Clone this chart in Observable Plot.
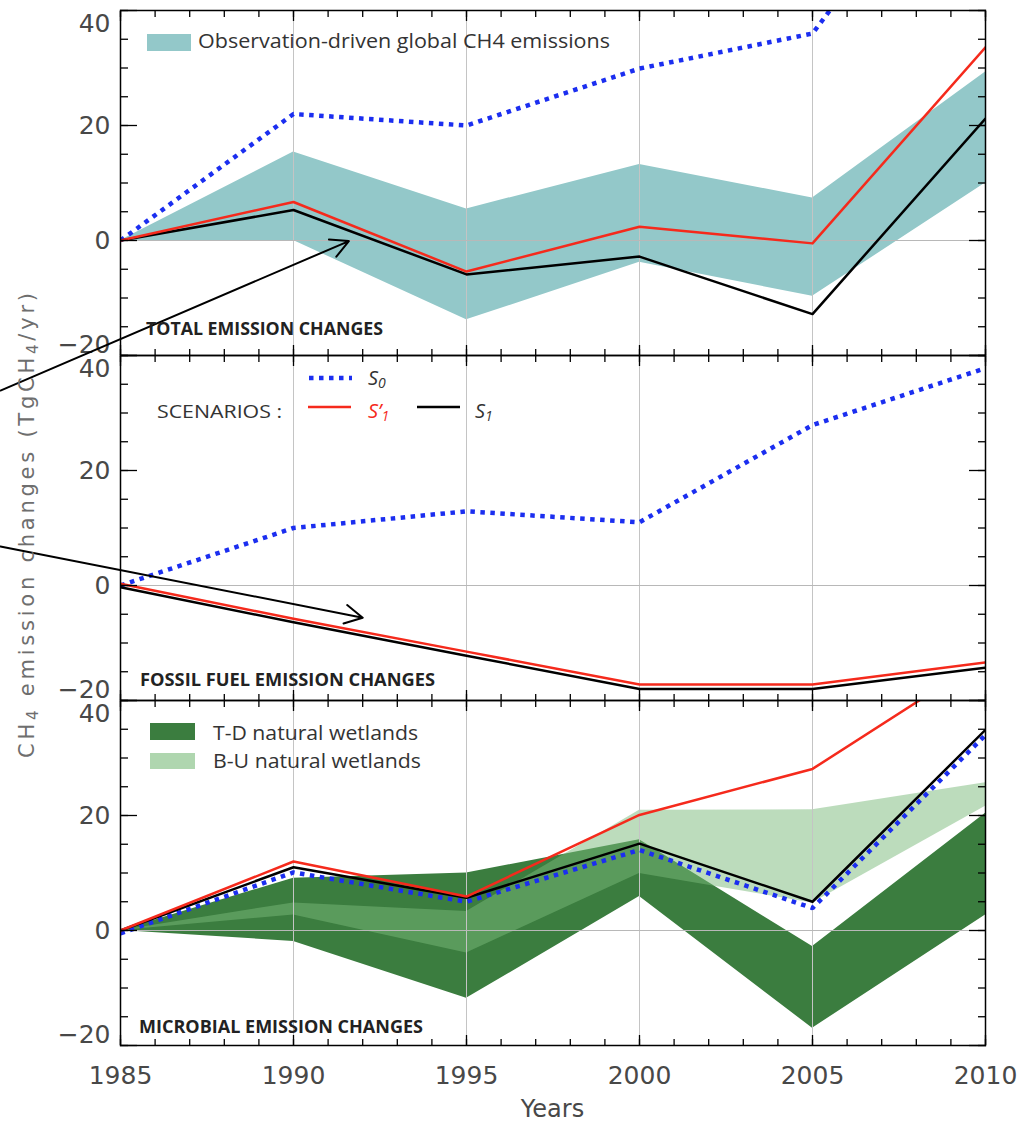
<!DOCTYPE html>
<html>
<head>
<meta charset="utf-8">
<script src="https://cdn.jsdelivr.net/npm/d3@7"></script>
<script src="https://cdn.jsdelivr.net/npm/@observablehq/plot@0.6"></script>
<style>
  body { margin: 0; background: #fff; }
  svg { display: block; }
</style>
</head>
<body>
<div id="chart"></div>
<script>
// ---------- data ----------
const years = [1985, 1990, 1995, 2000, 2005, 2010];
const panels = ["total", "fossil", "microbial"];

// TOTAL EMISSION CHANGES
const obsLow  = [0, 0, -13.8, -3.8, -9.7, 10.0];
const obsHigh = [0, 15.4, 5.5, 13.2, 7.4, 29.3];
const totalS0  = [0, 22.0, 20.0, 29.9, 36.0, 76];
const totalS1p = [0, 6.7, -5.4, 2.4, -0.5, 33.6];
const totalS1  = [0, 5.3, -5.9, -2.8, -12.8, 21.2];

// FOSSIL FUEL EMISSION CHANGES
const fossilS0  = [0, 10.0, 12.9, 11.0, 27.9, 37.8];
const fossilS1p = [0.3, -5.8, -11.5, -17.2, -17.2, -13.4];
const fossilS1  = [-0.3, -6.4, -12.2, -18.0, -18.0, -14.3];

// MICROBIAL EMISSION CHANGES
const micS0  = [-0.5, 10.1, 5.0, 14.0, 3.9, 34.0];
const micS1p = [0, 12.0, 5.9, 20.1, 28.1, 47.4];
const micS1  = [0, 11.0, 5.7, 15.1, 5.0, 34.9];
const tdLow  = [0, -1.9, -11.8, 5.9, -17.0, 2.7];
const tdHigh = [0, 9.1, 10.0, 15.8, -2.8, 20.4];
const buLow  = [0, 2.7, -3.9, 9.9, 4.8, 21.6];
const buHigh = [0, 4.8, 3.3, 20.9, 21.0, 25.7];

// axis ticks
const yMinorTicks = d3.range(-20, 41, 5);
const yMajorTicks = [-20, 0, 20, 40];
const xMinorTicks = d3.range(1985, 2011, 1);
const xMajorTicks = [1985, 1990, 1995, 2000, 2005, 2010];
const gridYears = [1990, 1995, 2000, 2005];

// annotation arrows (panel, from year/value -> to year/value)
const arrowPanel = ["total", "fossil"];
const arrowFromYear = [1981.53, 1981.53];
const arrowFromValue = [-26.1, 6.8];
const arrowToYear = [1991.6, 1992.0];
const arrowToValue = [-0.1, -5.6];

// ---------- build tables ----------
const band = (panel, lo, hi) => years.map((year, i) => ({panel, year, lo: lo[i], hi: hi[i]}));
const series = (panel, vals) => years.map((year, i) => ({panel, year, value: vals[i]}));
const s0Rows  = [...series("total", totalS0), ...series("fossil", fossilS0), ...series("microbial", micS0)];
const s1Rows  = [...series("total", totalS1), ...series("fossil", fossilS1), ...series("microbial", micS1)];
const s1pRows = [...series("total", totalS1p), ...series("fossil", fossilS1p), ...series("microbial", micS1p)];
const arrows = arrowPanel.map((panel, i) => ({panel, x1: arrowFromYear[i], y1: arrowFromValue[i], x2: arrowToYear[i], y2: arrowToValue[i]}));

const BLUE = "#1b2ef0", RED = "#f52a1c", TEAL = "#93c8c9", DKGREEN = "#3b7d3f", LTGREEN = "rgb(122,186,122)";
const fmt = d => d < 0 ? "\u2212" + Math.abs(d) : String(d);
const blank = () => "";

const W = 1020, H = 1122, ML = 120, MR = 35, MT = 10, MB = 77;
const PH = (H - MT - MB) / 3;

const tickFont = {fontSize: 25, fontFamily: "DejaVu Sans", fill: "#484848"};

const chart = Plot.plot({
  width: W, height: H,
  marginLeft: ML, marginRight: MR, marginTop: MT, marginBottom: MB,
  x: {domain: [1985, 2010]},
  y: {domain: [-20, 40]},
  fy: {domain: panels, padding: 0, axis: null},
  style: {background: "white", fontFamily: "DejaVu Sans"},
  marks: [
    Plot.areaY(band("total", obsLow, obsHigh), {x: "year", y1: "lo", y2: "hi", fy: "panel", fill: TEAL}),
    Plot.areaY(band("microbial", tdLow, tdHigh), {x: "year", y1: "lo", y2: "hi", fy: "panel", fill: DKGREEN}),
    Plot.areaY(band("microbial", buLow, buHigh), {x: "year", y1: "lo", y2: "hi", fy: "panel", fill: LTGREEN, fillOpacity: 0.5}),
    Plot.gridX(gridYears, {stroke: "#c4c4c4", strokeOpacity: 1, strokeWidth: 1}),
    Plot.gridY([0], {stroke: "#b8b8b8", strokeOpacity: 1, strokeWidth: 1}),
    Plot.line(s0Rows, {x: "year", y: "value", fy: "panel", stroke: BLUE, strokeWidth: 4.5, strokeDasharray: "4.5,5.5", strokeLinecap: "butt", strokeLinejoin: "miter", clip: true}),
    Plot.line(s1Rows, {x: "year", y: "value", fy: "panel", stroke: "black", strokeWidth: 2.5, clip: true}),
    Plot.line(s1pRows, {x: "year", y: "value", fy: "panel", stroke: RED, strokeWidth: 2.5, clip: true}),
    Plot.frame({stroke: "black", strokeWidth: 1.5}),
    // inward ticks, y
    Plot.axisY({anchor: "left", ticks: yMinorTicks, tickSize: -8, tickFormat: blank, strokeWidth: 1.3}),
    Plot.axisY({anchor: "left", ticks: yMajorTicks, tickSize: -17, tickFormat: blank, strokeWidth: 1.3}),
    Plot.axisY({anchor: "right", ticks: yMinorTicks, tickSize: -8, tickFormat: blank, strokeWidth: 1.3}),
    Plot.axisY({anchor: "right", ticks: yMajorTicks, tickSize: -17, tickFormat: blank, strokeWidth: 1.3}),
    // inward ticks, x (every panel)
    Plot.axisX({anchor: "bottom", facetAnchor: null, ticks: xMinorTicks, tickSize: -6, tickFormat: blank, strokeWidth: 1.3}),
    Plot.axisX({anchor: "bottom", facetAnchor: null, ticks: xMajorTicks, tickSize: -10, tickFormat: blank, strokeWidth: 1.3}),
    Plot.axisX({anchor: "top", facetAnchor: null, ticks: xMinorTicks, tickSize: -6, tickFormat: blank, strokeWidth: 1.3}),
    Plot.axisX({anchor: "top", facetAnchor: null, ticks: xMajorTicks, tickSize: -10, tickFormat: blank, strokeWidth: 1.3}),
    // tick labels
    Plot.axisY({anchor: "left", ticks: [0, 20], tickSize: 0, tickPadding: 10, tickFormat: fmt, label: null, ...tickFont}),
    Plot.axisY({anchor: "left", ticks: [40], tickSize: 0, tickPadding: 10, tickFormat: fmt, label: null, dy: 13, ...tickFont}),
    Plot.axisY({anchor: "left", ticks: [-20], tickSize: 0, tickPadding: 10, tickFormat: fmt, label: null, dy: -11, ...tickFont}),
    Plot.axisX({anchor: "bottom", ticks: xMajorTicks, tickSize: 0, tickPadding: 21, tickFormat: d => String(d), label: null, ...tickFont}),
    // annotation arrows
    Plot.arrow(arrows, {x1: "x1", y1: "y1", x2: "x2", y2: "y2", fy: "panel", stroke: "black", strokeWidth: 2, headLength: 15, headAngle: 56})
  ]
});

document.getElementById("chart").appendChild(chart);

// ---------- overlay texts & legends ----------
const svg = d3.select(chart);
const g = svg.append("g").attr("font-family", "'Open Sans', sans-serif").attr("text-anchor", "start");
const panelTop = i => MT + i * PH;

// y-axis label
const yl = g.append("text")
  .attr("transform", `translate(34,${(293 + 758) / 2}) rotate(-90)`)
  .attr("text-anchor", "middle")
  .attr("font-family", "'DejaVu Sans', sans-serif")
  .attr("font-size", 21)
  .attr("fill", "#6e6e6e")
  .attr("textLength", 465)
  .attr("lengthAdjust", "spacing");
yl.append("tspan").text("CH");
yl.append("tspan").attr("font-size", 15).attr("dy", 4).text("4");
yl.append("tspan").attr("dy", -4).text(" emission changes (TgCH");
yl.append("tspan").attr("font-size", 15).attr("dy", 4).text("4");
yl.append("tspan").attr("dy", -4).text("/yr)");

// x-axis label
g.append("text").attr("x", (ML + W - MR) / 2).attr("y", 1117)
  .attr("text-anchor", "middle").attr("font-family", "'DejaVu Sans', sans-serif")
  .attr("font-size", 24).attr("fill", "#484848").text("Years");

// panel labels
const panelLabel = (text, x, y, len) => g.append("text").attr("x", x).attr("y", y)
  .attr("font-size", 17).attr("font-weight", 700).attr("fill", "#222")
  .attr("textLength", len).attr("lengthAdjust", "spacingAndGlyphs").text(text);
panelLabel("TOTAL EMISSION CHANGES", 146, panelTop(1) - 20, 237);
panelLabel("FOSSIL FUEL EMISSION CHANGES", 140, panelTop(2) - 14, 295);
panelLabel("MICROBIAL EMISSION CHANGES", 139, panelTop(3) - 12, 284);

// top legend
g.append("rect").attr("x", 147).attr("y", panelTop(0) + 24).attr("width", 44).attr("height", 17).attr("fill", TEAL);
g.append("text").attr("x", 198).attr("y", panelTop(0) + 38).attr("font-size", 20).attr("fill", "#333")
  .attr("textLength", 412).attr("lengthAdjust", "spacingAndGlyphs")
  .text("Observation-driven global CH4 emissions");

// scenarios legend
const t1 = panelTop(1);
g.append("text").attr("x", 157).attr("y", t1 + 63).attr("font-size", 19).attr("fill", "#333")
  .attr("textLength", 125).attr("lengthAdjust", "spacingAndGlyphs").text("SCENARIOS :");
g.append("line").attr("x1", 309).attr("x2", 352).attr("y1", t1 + 23).attr("y2", t1 + 23)
  .attr("stroke", BLUE).attr("stroke-width", 4.5).attr("stroke-dasharray", "4.5,5.5");
g.append("line").attr("x1", 308).attr("x2", 351).attr("y1", t1 + 52).attr("y2", t1 + 52)
  .attr("stroke", RED).attr("stroke-width", 2.5);
g.append("line").attr("x1", 417).attr("x2", 460).attr("y1", t1 + 52).attr("y2", t1 + 52)
  .attr("stroke", "black").attr("stroke-width", 2.5);
const sLabel = (x, y, main, sub, color) => {
  const t = g.append("text").attr("x", x).attr("y", y).attr("font-size", 20)
    .attr("font-style", "italic").attr("fill", color);
  t.append("tspan").text(main);
  t.append("tspan").attr("font-size", 14).attr("dy", 3).text(sub);
};
sLabel(368, t1 + 30, "S", "0", "#333");
sLabel(368, t1 + 63, "S\u2019", "1", RED);
sLabel(475, t1 + 63, "S", "1", "#333");

// wetlands legend
const t2 = panelTop(2);
g.append("rect").attr("x", 150).attr("y", t2 + 23).attr("width", 45).attr("height", 17).attr("fill", DKGREEN);
g.append("rect").attr("x", 150).attr("y", t2 + 53).attr("width", 45).attr("height", 16).attr("fill", LTGREEN).attr("fill-opacity", 0.6);
g.append("text").attr("x", 213).attr("y", t2 + 40).attr("font-size", 20).attr("fill", "#333")
  .attr("textLength", 205).attr("lengthAdjust", "spacingAndGlyphs").text("T-D natural wetlands");
g.append("text").attr("x", 213).attr("y", t2 + 68).attr("font-size", 20).attr("fill", "#333")
  .attr("textLength", 208).attr("lengthAdjust", "spacingAndGlyphs").text("B-U natural wetlands");
</script>
</body>
</html>
